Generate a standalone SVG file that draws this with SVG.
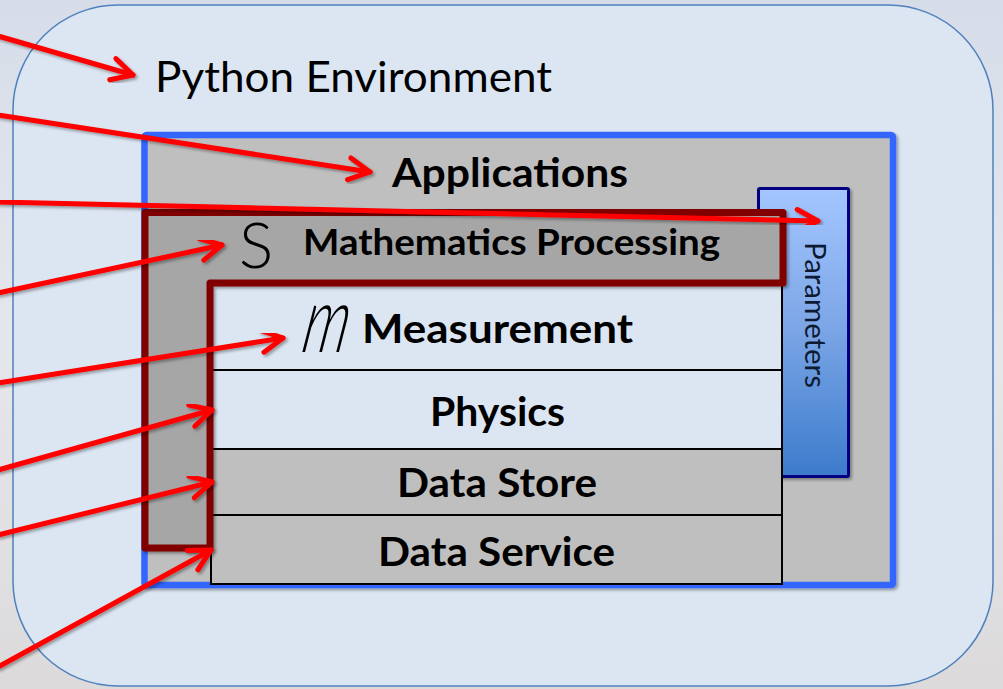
<svg xmlns="http://www.w3.org/2000/svg" width="1003" height="689" viewBox="0 0 1003 689">
<defs>
<style>
.lbl{font-family:Lato,"Liberation Sans",sans-serif;font-weight:700;fill:#000;text-anchor:middle}
.conn path{fill:none;stroke:#ff0000;stroke-width:5;stroke-linecap:round;filter:url(#sh)}
.row{stroke:#000;stroke-width:2}
</style>
<linearGradient id="bg" x1="0" y1="0" x2="0" y2="1">
<stop offset="0" stop-color="#d6dde9"/>
<stop offset="0.5" stop-color="#e6e7ec"/>
<stop offset="1" stop-color="#dcdadb"/>
</linearGradient>
<linearGradient id="pg" x1="0" y1="0" x2="0" y2="1">
<stop offset="0" stop-color="#a3c6ff"/>
<stop offset="0.45" stop-color="#7fa8e8"/>
<stop offset="1" stop-color="#3c7bcb"/>
</linearGradient>
<filter id="sh" x="-10%" y="-10%" width="130%" height="130%">
<feDropShadow dx="2" dy="2" stdDeviation="1.5" flood-color="#000" flood-opacity="0.35"/>
</filter>
<marker id="ah" markerUnits="userSpaceOnUse" markerWidth="40" markerHeight="40" viewBox="-30 -20 40 40" refX="0" refY="0" orient="auto" overflow="visible">
<path d="M-21,-11 L0,0 L-21,11" fill="none" stroke="#ff0000" stroke-width="5" stroke-linecap="round" stroke-linejoin="round"/>
</marker>
</defs>
<rect x="0" y="0" width="1003" height="689" fill="url(#bg)"/>
<g id="python-env">
<rect x="13" y="5" width="980" height="681" rx="105" ry="105" fill="#dce6f2" stroke="#4f81bd" stroke-width="1.5"/>
<text x="155" y="92" font-family="Lato,'Liberation Sans',sans-serif" font-size="42" fill="#000" textLength="397" lengthAdjust="spacingAndGlyphs">Python Environment</text>
</g>
<g id="applications">
<rect x="144.5" y="135" width="748.5" height="450" rx="2" fill="#bfbfbf" stroke="#3366ff" stroke-width="6.5" filter="url(#sh)"/>
<text class="lbl" x="510" y="187" font-size="41" textLength="236" lengthAdjust="spacingAndGlyphs">Applications</text>
</g>
<g id="parameters">
<rect x="758.5" y="188.5" width="90" height="288" rx="1.5" fill="url(#pg)" stroke="#000080" stroke-width="3" filter="url(#sh)"/>
<text transform="translate(816,315) rotate(90)" x="0" y="0" font-family="Lato,'Liberation Sans',sans-serif" font-size="28" fill="#0d1a33" text-anchor="middle" dominant-baseline="central" textLength="146" lengthAdjust="spacingAndGlyphs">Parameters</text>
</g>
<g id="measurement">
<rect class="row" x="211" y="283" width="571" height="87" fill="#dce6f2"/>
</g>
<g id="physics">
<rect class="row" x="211" y="370" width="571" height="79" fill="#dce6f2"/>
<text class="lbl" x="497.5" y="426" font-size="41" textLength="135" lengthAdjust="spacingAndGlyphs">Physics</text>
</g>
<g id="data-store">
<rect class="row" x="211" y="449" width="571" height="66" fill="#bfbfbf"/>
<text class="lbl" x="497" y="497" font-size="41" textLength="200" lengthAdjust="spacingAndGlyphs">Data Store</text>
</g>
<g id="data-service">
<rect class="row" x="211" y="515" width="571" height="69" fill="#bfbfbf"/>
<text class="lbl" x="496.5" y="566" font-size="41" textLength="237" lengthAdjust="spacingAndGlyphs">Data Service</text>
</g>
<g id="math-processing">
<path d="M145,212.5 L783,212.5 L783,283 L210,283 L210,548 L145,548 Z" fill="#a6a6a6" stroke="#800000" stroke-width="7" stroke-linejoin="round" filter="url(#sh)"/>
<text x="256" y="268" font-family="Lato,'Liberation Sans',sans-serif" font-weight="300" font-size="64" fill="#000" text-anchor="middle">S</text>
<text class="lbl" x="511.5" y="255" font-size="36" textLength="417" lengthAdjust="spacingAndGlyphs">Mathematics Processing</text>
</g>
<g id="measurement-label">
<text transform="translate(300,352) scale(1,1.6) skewX(-16)" x="0" y="0" font-family="Lato,'Liberation Sans',sans-serif" font-style="italic" font-weight="300" font-size="58" fill="#000">m</text>
<text class="lbl" x="497.5" y="343" font-size="41" textLength="271" lengthAdjust="spacingAndGlyphs">Measurement</text>
</g>
<g id="connectors" class="conn">
<path d="M-2,36 L133,75" marker-end="url(#ah)"/>
<path d="M-2,115 L370,172" marker-end="url(#ah)"/>
<path d="M-2,202 L818,221" marker-end="url(#ah)"/>
<path d="M-2,293 L222,245" marker-end="url(#ah)"/>
<path d="M-2,383 L283,338" marker-end="url(#ah)"/>
<path d="M-2,470 L212,410" marker-end="url(#ah)"/>
<path d="M-2,535 L212,482" marker-end="url(#ah)"/>
<path d="M-2,667 L211,550" marker-end="url(#ah)"/>
</g>
</svg>
